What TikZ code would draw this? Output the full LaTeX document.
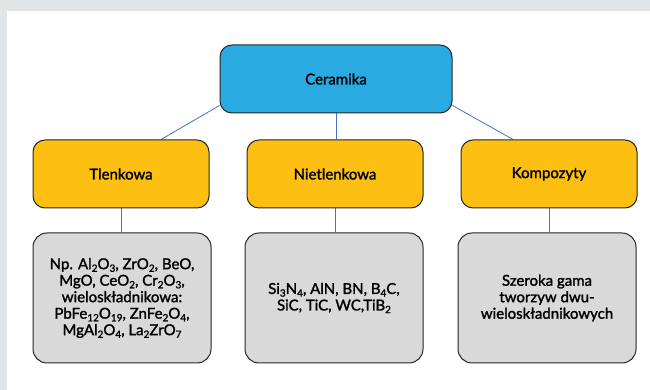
\documentclass[tikz,border=0pt]{standalone}
\usepackage{fontspec}
\setmainfont{Lato}[BoldFont=Lato, BoldFeatures={FakeBold=1.6}]
\usepackage{tikz}
\usetikzlibrary{positioning,backgrounds}

\definecolor{cerblue}{HTML}{29ABE2}
\definecolor{typeyellow}{HTML}{FCBF12}
\definecolor{boxgrey}{HTML}{D9D9D9}
\definecolor{linkblue}{HTML}{4472C4}
\definecolor{framegrey}{HTML}{E1E5E7}

\newcommand{\subx}[1]{\raisebox{-0.35ex}{\fontsize{10}{10}\selectfont #1}}

\begin{document}
\begin{tikzpicture}[
  x=1pt, y=1pt,
  every node/.style={font=\fontsize{15}{16.5}\selectfont\bfseries},
  rootbox/.style={
    rectangle, rounded corners=12pt,
    draw=black!85, line width=1pt, fill=cerblue,
    text=black, align=center,
    minimum width=232pt, minimum height=68pt, inner sep=0pt
  },
  typebox/.style={
    rectangle, rounded corners=12pt,
    draw=black!85, line width=1pt, fill=typeyellow,
    text=black, align=center,
    minimum width=176pt, minimum height=68pt, inner sep=0pt
  },
  examplebox/.style={
    rectangle, rounded corners=14pt,
    draw=black!85, line width=1pt, fill=boxgrey,
    text=black, align=center,
    minimum width=178pt, minimum height=130pt, inner sep=0pt
  },
  link/.style={linkblue, line width=0.8pt},
]

% --- Frame ---
\useasboundingbox (0,0) rectangle (650,390);

% --- Nodes ---
\node[rootbox] (ceramika) at (336,311) {Ceramika};

\node[typebox] (tlenkowa) at (121,216) {Tlenkowa};
\node[typebox] (nietlenkowa) at (335,216) {Nietlenkowa};
\node[typebox] (kompozyty) at (549,216) {Kompozyty};

\node[examplebox] (tlenkowaEx) at (122,92)
  {Np. Al\subx{2}O\subx{3}, ZrO\subx{2}, BeO,\\
   MgO, CeO\subx{2}, Cr\subx{2}O\subx{3},\\
   wieloskładnikowa:\\
   PbFe\subx{12}O\subx{19}, ZnFe\subx{2}O\subx{4},\\
   MgAl\subx{2}O\subx{4}, La\subx{2}ZrO\subx{7}};

\node[examplebox] (nietlenkowaEx) at (334,92)
  {Si\subx{3}N\subx{4}, AlN, BN, B\subx{4}C,\\
   SiC, TiC, WC,TiB\subx{2}};

\node[examplebox] (kompozytyEx) at (547,92)
  {Szeroka gama\\
   tworzyw dwu-\\
   wieloskładnikowych};

\begin{scope}[on background layer]
  % background and white sheet
  \fill[framegrey] (0,0) rectangle (650,390);
  \fill[white] (7,0) rectangle (650,379);

  % --- Links ---
  \draw[link] ([yshift=8pt]ceramika.south west) -- ([xshift=40pt]tlenkowa.north);
  \draw[link] (ceramika.south) -- (ceramika.south |- nietlenkowa.north);
  \draw[link] ([yshift=8pt]ceramika.south east) -- ([xshift=-36pt]kompozyty.north);

  \draw[link] (tlenkowa.south) -- (tlenkowa.south |- tlenkowaEx.north);
  \draw[link] (nietlenkowa.south) -- (nietlenkowa.south |- nietlenkowaEx.north);
  \draw[link] (kompozyty.south) -- (kompozyty.south |- kompozytyEx.north);
\end{scope}

\end{tikzpicture}
\end{document}
